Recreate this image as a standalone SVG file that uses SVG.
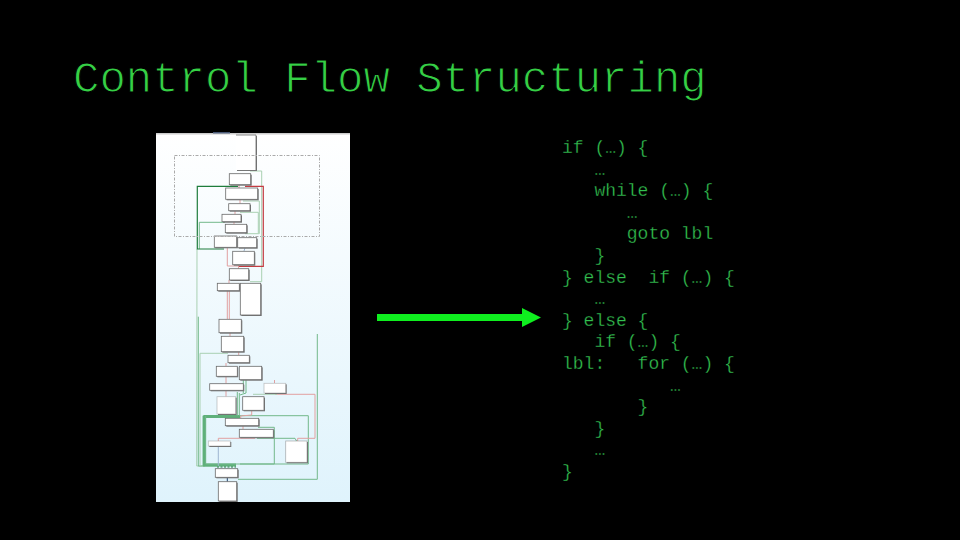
<svg xmlns="http://www.w3.org/2000/svg" width="960" height="540" viewBox="0 0 960 540">
<style>
.title{font:44px "Liberation Mono",monospace;fill:#35d045;stroke:#000;stroke-width:1.1px}
.code{font:18px "Liberation Mono",monospace;fill:#33c050;white-space:pre;stroke:#000;stroke-width:.3px}
.b{fill:#fff;stroke:#6a6a6a;stroke-width:.8}
.s{fill:#777}
#connectors polyline,#connectors path{fill:none}
.lg{stroke:#a9d0b2;stroke-width:1}
.mg{stroke:#72b88a;stroke-width:1}
.tg{stroke:#5fb07a;stroke-width:3}
.dg{stroke:#1f7d3c;stroke-width:1.2}
.dr{stroke:#c43c42;stroke-width:1.2}
.lr{stroke:#e2a0a0;stroke-width:1}
.bl{stroke:#9db4d0;stroke-width:1}
.nv{stroke:#24406a;stroke-width:1}
</style>
<defs>
<linearGradient id="bg" x1="0" y1="0" x2="0" y2="1"><stop offset="0" stop-color="#fff"/><stop offset="1" stop-color="#dff3fc"/></linearGradient>
</defs>
<rect width="960" height="540" fill="#000"/>
<text class="title" x="73" y="92">Control Flow Structuring</text>
<g id="panel">
<rect x="156" y="133" width="194" height="369" fill="url(#bg)"/>
<rect x="156" y="133" width="194" height="1.5" fill="#ccc"/>
<rect x="213" y="132" width="17" height="1.5" fill="#4a5a78"/>
</g>
<g id="connectors">
<polyline class="lg" points="250,171 261.7,171 261.7,281.7 250,281.7"/>
<polyline class="lg" points="243,201 259.3,201 259.3,233.7 245,233.7"/>
<polyline class="lg" points="240,212.3 258.3,212.3 258.3,233"/>
<polyline class="mg" points="225,222.3 199.3,222.3 199.3,249"/>
<polyline class="lg" points="197,249 196.7,466 205,466"/>
<polyline class="dg" points="238,186.3 197.3,186.3 197.3,249 224,249"/>
<polyline class="dr" points="245,186.3 263.3,186.3 263.3,266.3 238,266.3"/>
<polyline class="lr" points="227.3,248 227.3,266 238,266"/>
<polyline class="lr" points="227.3,291 227.3,319"/>
<polyline class="lr" points="229.3,291 229.3,319"/>
<polyline class="mg" points="198.3,316.7 198.3,466 217,466"/>
<polyline class="lg" points="228,353.3 200,353.3 200,466"/>
<polyline class="mg" points="317.3,334 317.3,479.3 238,479.3"/>
<polyline class="mg" points="203,466 203,415.7 308.3,415.7 308.3,464"/>
<polyline class="tg" points="204.5,416 204.5,465 236,465"/>
<polyline class="tg" points="204,416.5 240,416.5" stroke-width="1.5"/>
<polyline class="mg" points="205.7,416 205.7,464 308.3,464"/>
<polyline class="mg" points="240,464 274.3,464 274.3,427.3 258,427.3"/>
<polyline class="lr" points="275,394.3 315,394.3 315,438.3 297.7,438.3 297.7,441"/>
<polyline class="lg" points="253,394.3 277,394.3"/>
<polyline class="lr" points="255,438.3 218.3,438.3 218.3,441"/>
<polyline class="bl" points="218.3,446 218.3,466"/>
<polyline class="mg" points="257,438.3 295,438.3 296.5,441"/>
<polyline class="mg" points="237.3,392 237.3,416"/>
<polyline class="mg" points="239.3,393 239.3,416"/>
<polyline class="mg" points="246,380 246,393 240,395"/>
<polyline class="mg" points="243.3,380 243.3,393"/>
<polyline class="lr" points="251.7,410.3 251.7,415 240.7,416 240.7,418"/>
<polyline class="lr" points="230,333 230,336"/>
<polyline class="lr" points="238.7,352 238.7,355"/>
<polyline class="lr" points="226,363 226,366"/>
<polyline class="lr" points="226,376.5 226,383.5"/>
<polyline class="lr" points="226,390.5 226,396.5"/>
<polyline class="lr" points="274.5,380 274.5,383"/>
<polyline class="lr" points="243,426 243,429"/>
<polyline class="lr" points="239,185 239,188"/>
<polyline class="lr" points="240,199.5 240,203.5"/>
<polyline class="lr" points="235,211 235,214"/>
<polyline class="lr" points="234,222 234,224"/>
<polyline class="bl" points="245,248 244,251"/>
<polyline class="lr" points="238.5,265 238.5,268.5"/>
<polyline class="lr" points="229,280 229,283"/>
<polyline class="dg" points="217,467 236,467" stroke-dasharray="2 1.5"/>
<polyline class="nv" points="227.3,477.5 227.3,481.7"/>
</g>
<g id="n1"><rect class="s" x="237" y="136" width="20" height="35"/><rect x="236" y="135" width="20" height="35" fill="#fff"/><path d="M236 135H256V170" fill="none" stroke="#6a6a6a" stroke-width=".8"/></g>
<g id="n2"><rect class="s" x="230.3" y="174.7" width="21.4" height="11"/><rect class="b" x="229.3" y="173.7" width="21.4" height="11"/></g>
<g id="n3"><rect class="s" x="226.7" y="189" width="32" height="11.3"/><rect class="b" x="225.7" y="188" width="32" height="11.3"/></g>
<g id="n4"><rect class="s" x="229.7" y="204.7" width="21.3" height="7"/><rect class="b" x="228.7" y="203.7" width="21.3" height="7"/></g>
<g id="n5"><rect class="s" x="223" y="215.3" width="19" height="7.4"/><rect class="b" x="222" y="214.3" width="19" height="7.4"/></g>
<g id="n6"><rect class="s" x="226.3" y="225.3" width="21.4" height="8.4"/><rect class="b" x="225.3" y="224.3" width="21.4" height="8.4"/></g>
<g id="n7"><rect class="s" x="215.3" y="237" width="22.4" height="11.3"/><rect class="b" x="214.3" y="236" width="22.4" height="11.3"/></g>
<g id="n8"><rect class="s" x="238.7" y="238.7" width="19" height="10"/><rect class="b" x="237.7" y="237.7" width="19" height="10"/></g>
<g id="n9"><rect class="s" x="233.7" y="252.3" width="21.6" height="13.4"/><rect class="b" x="232.7" y="251.3" width="21.6" height="13.4"/></g>
<g id="n10"><rect class="s" x="230.3" y="269.7" width="19.4" height="11.3"/><rect class="b" x="229.3" y="268.7" width="19.4" height="11.3"/></g>
<g id="n11"><rect class="s" x="218.3" y="284.3" width="22" height="7.4"/><rect class="b" x="217.3" y="283.3" width="22" height="7.4"/></g>
<g id="n12"><rect class="s" x="241.3" y="284.3" width="20.4" height="31.7"/><rect class="b" x="240.3" y="283.3" width="20.4" height="31.7"/></g>
<g id="n13"><rect class="s" x="220" y="320.3" width="22.3" height="13.4"/><rect class="b" x="219" y="319.3" width="22.3" height="13.4"/></g>
<g id="n14"><rect class="s" x="222.3" y="337.3" width="22.4" height="15.4"/><rect class="b" x="221.3" y="336.3" width="22.4" height="15.4"/></g>
<g id="n15"><rect class="s" x="229" y="356.3" width="21.3" height="7.4"/><rect class="b" x="228" y="355.3" width="21.3" height="7.4"/></g>
<g id="n16"><rect class="s" x="217.3" y="367.3" width="21" height="10"/><rect class="b" x="216.3" y="366.3" width="21" height="10"/></g>
<g id="n17"><rect class="s" x="240.3" y="367.3" width="22.4" height="13.4"/><rect class="b" x="239.3" y="366.3" width="22.4" height="13.4"/></g>
<g id="n18"><rect class="s" x="210.7" y="384.7" width="33.6" height="6.6"/><rect class="b" x="209.7" y="383.7" width="33.6" height="6.6"/></g>
<g id="n19"><rect class="s" x="265" y="384.3" width="21.7" height="9.7"/><rect class="b" x="264" y="383.3" width="21.7" height="9.7" stroke-opacity=".4"/></g>
<g id="n20"><rect class="s" x="218" y="397.7" width="18.7" height="17.3"/><rect class="b" x="217" y="396.7" width="18.7" height="17.3" stroke-opacity=".4"/></g>
<g id="n21"><rect class="s" x="243.7" y="397.7" width="21.3" height="13.6"/><rect class="b" x="242.7" y="396.7" width="21.3" height="13.6"/></g>
<g id="n22"><rect class="s" x="226.3" y="419.3" width="33.4" height="7.4"/><rect class="b" x="225.3" y="418.3" width="33.4" height="7.4"/></g>
<g id="n23"><rect class="s" x="240.3" y="430.3" width="34" height="8"/><rect class="b" x="239.3" y="429.3" width="34" height="8"/></g>
<g id="n24"><rect class="s" x="209.3" y="442" width="22" height="5"/><rect class="b" x="208.3" y="441" width="22" height="5" stroke-opacity=".4"/></g>
<g id="n25"><rect class="s" x="286.7" y="442" width="21.3" height="21.3"/><rect class="b" x="285.7" y="441" width="21.3" height="21.3" stroke-opacity=".5"/></g>
<g id="n26"><rect class="s" x="216.3" y="469.7" width="22.4" height="8.6"/><rect class="b" x="215.3" y="468.7" width="22.4" height="8.6"/></g>
<g id="n27"><rect class="s" x="219.3" y="482.7" width="18.4" height="19.3"/><rect class="b" x="218.3" y="481.7" width="18.4" height="19.3"/></g>
<rect id="selection" x="174.5" y="155.5" width="145" height="81" fill="none" stroke="#aaa" stroke-width="1" stroke-dasharray="3 1.5 1 1.5"/>
<g id="arrow">
<path d="M377 314H522V308L541 317.5L522 327V321H377Z" fill="#0fef1f"/>
</g>
<text class="code" x="562" y="153">if (…) {</text>
<text class="code" x="562" y="174.6">   …</text>
<text class="code" x="562" y="196.2">   while (…) {</text>
<text class="code" x="562" y="217.8">      …</text>
<text class="code" x="562" y="239.4">      goto lbl</text>
<text class="code" x="562" y="261">   }</text>
<text class="code" x="562" y="282.6">} else  if (…) {</text>
<text class="code" x="562" y="304.2">   …</text>
<text class="code" x="562" y="325.8">} else {</text>
<text class="code" x="562" y="347.4">   if (…) {</text>
<text class="code" x="562" y="369">lbl:   for (…) {</text>
<text class="code" x="562" y="390.6">          …</text>
<text class="code" x="562" y="412.2">       }</text>
<text class="code" x="562" y="433.8">   }</text>
<text class="code" x="562" y="455.4">   …</text>
<text class="code" x="562" y="477">}</text>
</svg>
